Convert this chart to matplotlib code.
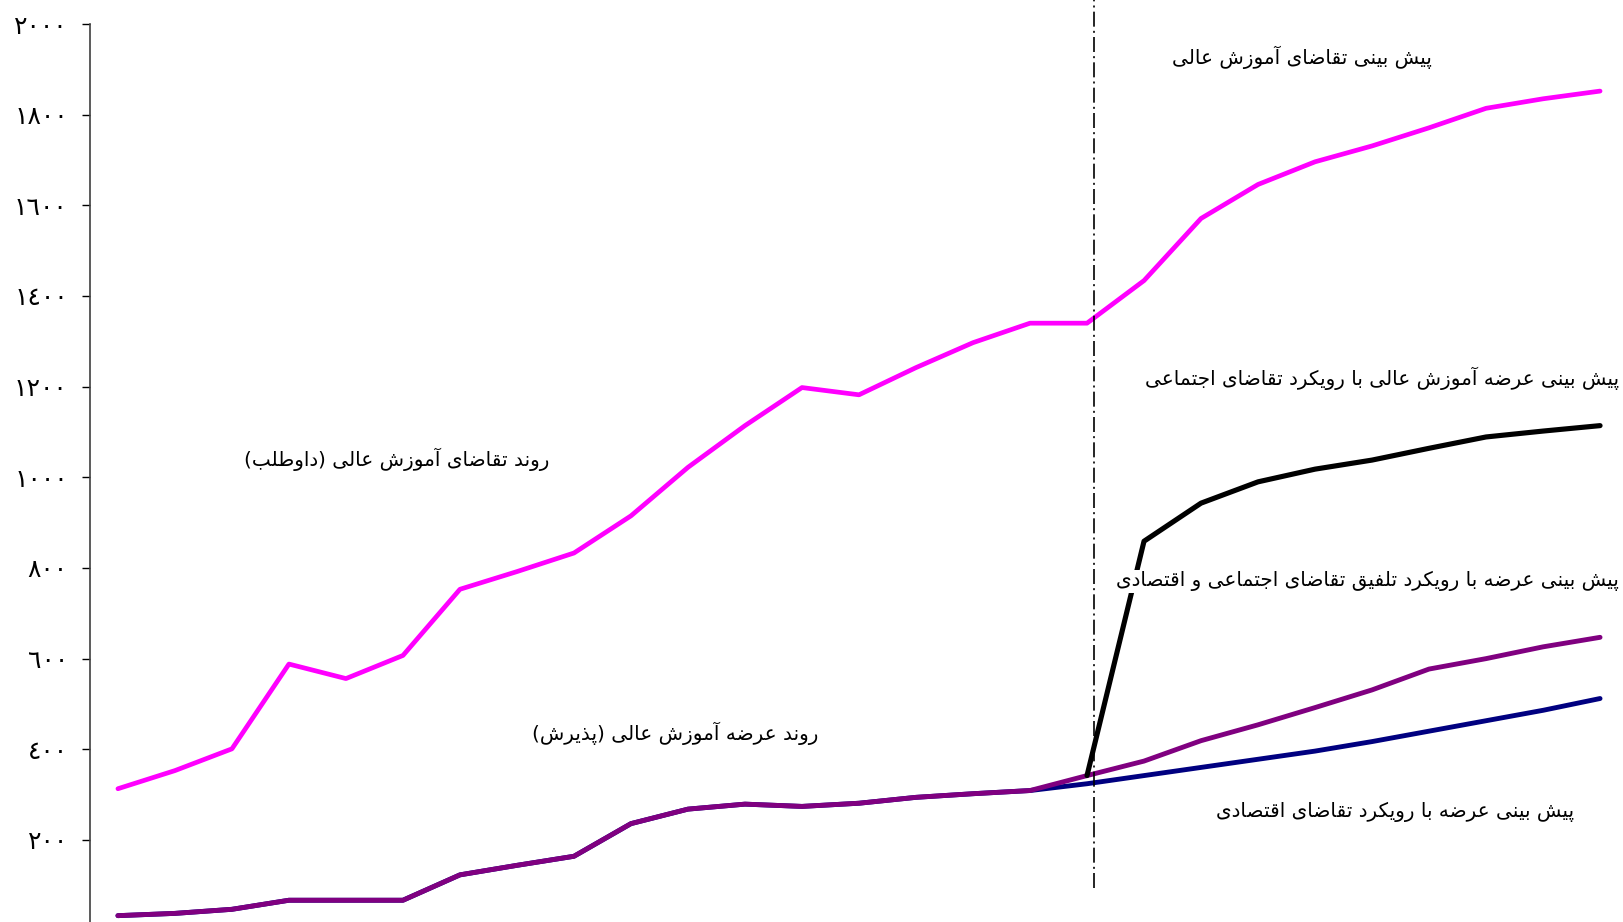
import matplotlib
matplotlib.use('Agg')
import matplotlib.pyplot as plt

# period index (27 points), forecast begins at index 17
years = list(range(27))
forecast_start = 17

# demand for higher education (applicants), history + forecast
demand = [313, 353, 401, 588, 556, 607, 753, 792, 833, 915, 1022, 1114, 1198,
          1182, 1242, 1297, 1340, 1340, 1434, 1571, 1646, 1696, 1731, 1771,
          1814, 1835, 1852]

# supply (admissions) history, index 0..16
supply_hist = [33, 38, 47, 67, 67, 67, 123, 144, 164, 236, 268, 279, 274, 281,
               294, 302, 309]

# supply forecasts, index 17..26
supply_econ = [324, 342, 360, 378, 396, 417, 440, 463, 486, 512]
supply_mixed = [342, 374, 419, 454, 492, 531, 577, 600, 626, 647]
supply_social = [342, 859, 943, 990, 1018, 1038, 1064, 1089, 1102, 1114]

y_ticks = [200, 400, 600, 800, 1000, 1200, 1400, 1600, 1800, 2000]

labels = {
    'demand_fc': 'پیش بینی تقاضای آموزش عالی',
    'social_fc': 'پیش بینی عرضه آموزش عالی با رویکرد تقاضای اجتماعی',
    'mixed_fc': 'پیش بینی عرضه با رویکرد تلفیق تقاضای اجتماعی و اقتصادی',
    'econ_fc': 'پیش بینی عرضه با رویکرد تقاضای اقتصادی',
    'demand_hist': 'روند تقاضای آموزش عالی (داوطلب)',
    'supply_hist': 'روند عرضه آموزش عالی (پذیرش)',
}

# contextual forms: isolated, final, initial, medial
FORMS = {
    '\u0627': ('\uFE8D', '\uFE8E', None, None),
    '\u0622': ('\uFE81', '\uFE82', None, None),
    '\u0628': ('\uFE8F', '\uFE90', '\uFE91', '\uFE92'),
    '\u067E': ('\uFB56', '\uFB57', '\uFB58', '\uFB59'),
    '\u062A': ('\uFE95', '\uFE96', '\uFE97', '\uFE98'),
    '\u062C': ('\uFE9D', '\uFE9E', '\uFE9F', '\uFEA0'),
    '\u062F': ('\uFEA9', '\uFEAA', None, None),
    '\u0630': ('\uFEAB', '\uFEAC', None, None),
    '\u0631': ('\uFEAD', '\uFEAE', None, None),
    '\u0632': ('\uFEAF', '\uFEB0', None, None),
    '\u0634': ('\uFEB5', '\uFEB6', '\uFEB7', '\uFEB8'),
    '\u0635': ('\uFEB9', '\uFEBA', '\uFEBB', '\uFEBC'),
    '\u0636': ('\uFEBD', '\uFEBE', '\uFEBF', '\uFEC0'),
    '\u0637': ('\uFEC1', '\uFEC2', '\uFEC3', '\uFEC4'),
    '\u0639': ('\uFEC9', '\uFECA', '\uFECB', '\uFECC'),
    '\u0641': ('\uFED1', '\uFED2', '\uFED3', '\uFED4'),
    '\u0642': ('\uFED5', '\uFED6', '\uFED7', '\uFED8'),
    '\u06A9': ('\uFB8E', '\uFB8F', '\uFB90', '\uFB91'),
    '\u0644': ('\uFEDD', '\uFEDE', '\uFEDF', '\uFEE0'),
    '\u0645': ('\uFEE1', '\uFEE2', '\uFEE3', '\uFEE4'),
    '\u0646': ('\uFEE5', '\uFEE6', '\uFEE7', '\uFEE8'),
    '\u0647': ('\uFEE9', '\uFEEA', '\uFEEB', '\uFEEC'),
    '\u0648': ('\uFEED', '\uFEEE', None, None),
    '\u06CC': ('\uFBFC', '\uFBFD', '\uFBFE', '\uFBFF'),
}


def shape(text):
    # poor man's arabic shaping + RTL reordering (matplotlib has no bidi)
    text = text.replace('\u064A', '\u06CC').replace('\u0643', '\u06A9')
    out = []
    for i, ch in enumerate(text):
        if ch not in FORMS:
            out.append(ch)
            continue
        prev = text[i - 1] if i > 0 else ''
        nxt = text[i + 1] if i + 1 < len(text) else ''
        join_prev = prev in FORMS and FORMS[prev][2] is not None
        join_next = FORMS[ch][2] is not None and nxt in FORMS
        iso, fin, ini, med = FORMS[ch]
        if join_prev and join_next:
            out.append(med)
        elif join_prev:
            out.append(fin)
        elif join_next:
            out.append(ini)
        else:
            out.append(iso)
    vis = ''.join(reversed(out))
    return vis.translate(str.maketrans('()', ')('))


def ar_digits(n):
    return str(n).translate(str.maketrans('0123456789', '٠١٢٣٤٥٦٧٨٩'))


plt.rcParams['font.family'] = ['DejaVu Sans']

fig = plt.figure(figsize=(16.24, 9.22), dpi=100)
ax = fig.add_axes([90 / 1624, 0, 1 - 90 / 1624, (922 - 24) / 922])

fc_x = years[forecast_start:]

ax.plot(years, supply_hist + supply_econ, color='#000080', lw=3.5,
        solid_capstyle='round')
ax.plot(years, supply_hist + supply_mixed, color='#800080', lw=3.5,
        solid_capstyle='round')
ax.plot(fc_x, supply_social, color='black', lw=3.7, solid_capstyle='round')
ax.plot(years, demand, color='#FF00FF', lw=3.4, solid_capstyle='round')

# boundary between history and forecast
ax.plot([forecast_start + 0.12] * 2, [94, 2053], color='black', lw=1.2,
        dashes=(9, 2.5, 1.2, 2.5), clip_on=False)

ax.set_xlim(-0.49, 26.42)
ax.set_ylim(19, 2000)

ax.set_yticks(y_ticks)
ax.set_yticklabels([ar_digits(t) for t in y_ticks], fontsize=18)
ax.tick_params(axis='y', direction='out', length=6, width=1, pad=10,
               colors='black')
ax.set_xticks([])
for side in ['top', 'right', 'bottom']:
    ax.spines[side].set_visible(False)
ax.spines['left'].set_color('#404040')
ax.spines['left'].set_linewidth(1.2)

box = dict(facecolor='white', edgecolor='none', pad=1)
txt = dict(fontsize=14.4, ha='right', va='center', color='black', bbox=box)
ax.text(23.05, 1927, shape(labels['demand_fc']), **txt)
ax.text(26.33, 1219, shape(labels['social_fc']), **txt)
ax.text(26.33, 771, shape(labels['mixed_fc']), **txt)
ax.text(25.54, 262, shape(labels['econ_fc']), **txt)
ax.text(7.56, 1040, shape(labels['demand_hist']), **txt)
ax.text(12.28, 436, shape(labels['supply_hist']), **txt)

fig.savefig('out.png', dpi=100, facecolor='white')
